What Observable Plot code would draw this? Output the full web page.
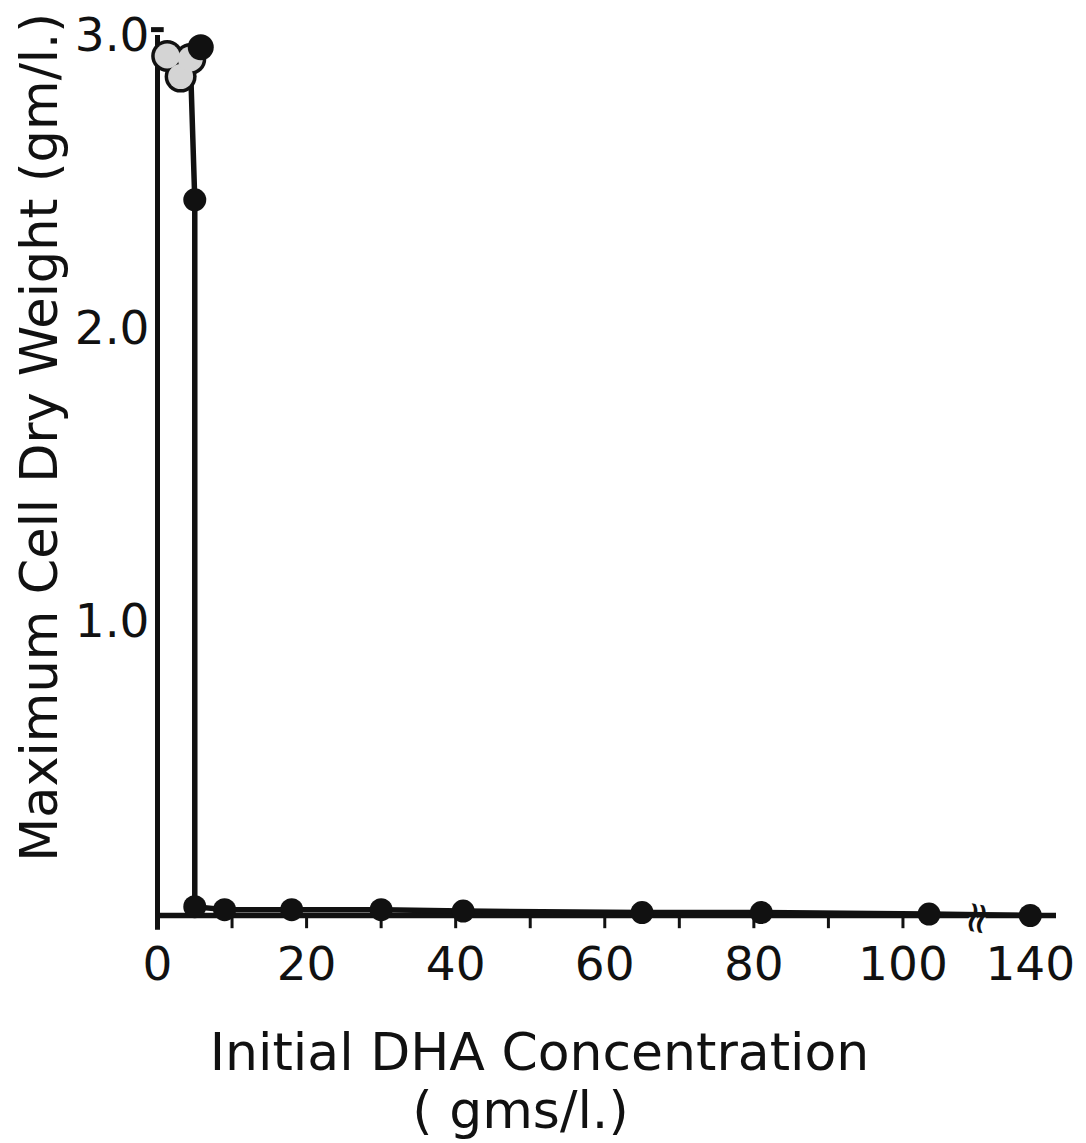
<!DOCTYPE html>
<html>
<head>
<meta charset="utf-8">
<script src="https://cdn.jsdelivr.net/npm/d3@7"></script>
<script src="https://cdn.jsdelivr.net/npm/@observablehq/plot@0.6"></script>
<style>
  html, body { margin: 0; padding: 0; background: #fff; }
  #chart svg { display: block; }
</style>
</head>
<body>
<div id="chart"></div>
<script>
// Maximum cell dry weight (gm/l.) against initial DHA concentration (gms/l.)

// Replicate cultures at the lowest concentrations (stippled markers)
const stippledConc   = [1.3, 3.1, 4.4];
const stippledWeight = [2.93, 2.86, 2.92];

// Solid markers
const solidConc   = [5.8, 5, 5, 9, 18, 30, 41, 65, 81, 103.5, 140];
const solidWeight = [2.96, 2.44, 0.03, 0.02, 0.02, 0.02, 0.015, 0.01, 0.01, 0.005, 0.0];

// Axis ticks (the concentration axis is broken between 100 and 140)
const xTickLabels = [0, 20, 40, 60, 80, 100, 140];
const xMinorTicks = [10, 20, 30, 40, 50, 60, 70, 80, 90, 100];
const yTickValues = [1, 2, 3];
const yTickLabels = ["1.0", "2.0", "3.0"];
const xBreakAt = 110;

const xTitle = "Initial DHA Concentration";
const xUnits = "( gms/l.)";
const yTitle = "Maximum Cell Dry Weight (gm/l.)";

const stippled = stippledConc.map((c, i) => ({c, w: stippledWeight[i]}));
const solid = solidConc.map((c, i) => ({c, w: solidWeight[i]}));
// the curve leaves the last stippled point and drops through the solid points
const curve = [stippled[stippled.length - 1], ...solid.slice(1)];

const ink = "#111";
const font = "DejaVu Sans";

const chart = Plot.plot({
  width: 1086,
  height: 1143,
  marginTop: 0, marginRight: 0, marginBottom: 0, marginLeft: 0,
  style: {fontFamily: font, background: "white", color: ink},
  x: {type: "linear", domain: [0, 110, 130, 148], range: [157, 977, 997, 1056], axis: null},
  y: {type: "linear", domain: [0, 3], range: [915, 35], axis: null},
  marks: [
    // axes
    Plot.ruleY([0], {x1: 0, x2: 148, stroke: ink, strokeWidth: 5.5}),
    Plot.ruleX([0], {y1: -0.05, y2: 3.0, stroke: ink, strokeWidth: 5}),
    Plot.ruleY([3.02], {x1: -0.8, x2: 0.9, stroke: ink, strokeWidth: 5}),
    Plot.ruleX(xMinorTicks, {y1: 0, y2: -0.045, stroke: ink, strokeWidth: 3}),
    Plot.text([xBreakAt], {x: d => d, y: -0.01, text: () => "≈", fontSize: 44, rotate: 100, fill: ink, stroke: "white", strokeWidth: 3, paintOrder: "stroke"}),

    // tick labels
    Plot.text(xTickLabels, {x: d => d, y: 0, text: d => String(d), dy: 49, fontSize: 47, fill: ink, lineAnchor: "middle"}),
    Plot.text(yTickValues, {x: 0, y: d => d, text: (d, i) => yTickLabels[i], dx: -8, textAnchor: "end", fontSize: 47, fill: ink, lineAnchor: "middle"}),

    // curve
    Plot.line(curve, {x: "c", y: "w", stroke: ink, strokeWidth: 5.5, strokeLinejoin: "round", strokeLinecap: "round"}),

    // stippled markers: dark outline layer, then light fill so the cluster shares one outline
    Plot.dot(stippled, {x: "c", y: "w", r: 16, fill: ink, stroke: "none"}),
    Plot.dot(stippled, {x: "c", y: "w", r: 12.5, fill: "#d4d4d4", stroke: "none"}),

    // solid markers
    Plot.dot(solid.slice(0, 1), {x: "c", y: "w", r: 13, fill: ink, stroke: "none"}),
    Plot.dot(solid.slice(1), {x: "c", y: "w", r: 11.5, fill: ink, stroke: "none"}),

    // axis titles
    Plot.text([xTitle], {frameAnchor: "bottom", dx: -4, dy: -90, fontSize: 52, fill: ink, lineAnchor: "middle"}),
    Plot.text([xUnits], {frameAnchor: "bottom", dx: -23, dy: -32, fontSize: 52, fill: ink, lineAnchor: "middle"}),
    Plot.text([yTitle], {x: -15.7, y: 1.63, rotate: -90, fontSize: 51, fill: ink, lineAnchor: "middle"})
  ]
});

document.getElementById("chart").appendChild(chart);
</script>
</body>
</html>
